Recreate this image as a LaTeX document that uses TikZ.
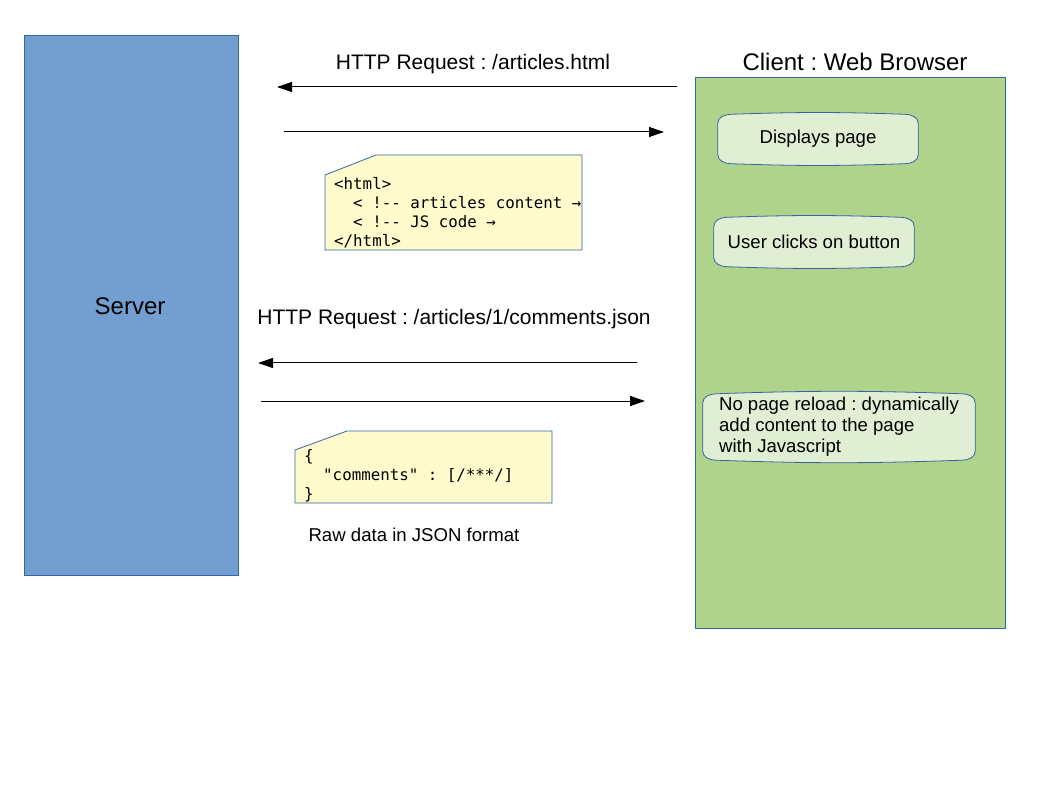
\documentclass[tikz,border=0pt]{standalone}
\usepackage{fontspec}
\setmainfont{Liberation Sans}
\newfontfamily\codefont{DejaVu Sans Mono}
\usepackage{xcolor}
\usetikzlibrary{arrows.meta,positioning,backgrounds}
\frenchspacing

\definecolor{serverblue}{HTML}{729FCF}
\definecolor{clientgreen}{HTML}{AFD38B}
\definecolor{stepgreen}{HTML}{E0EED4}
\definecolor{noteyellow}{HTML}{FFFBCC}
\definecolor{edgeblue}{HTML}{3465A4}

\tikzset{
  msg/.style={line width=1pt, -{Triangle[length=15pt,width=10pt]}},
  lane/.style={draw=edgeblue, line width=0.8pt},
  stepbox/.style={minimum width=200pt, minimum height=49pt, font=\fontsize{18.6}{21}\selectfont},
  stepline/.style={draw=edgeblue, fill=stepgreen, line width=0.8pt},
  note/.style={draw=edgeblue, fill=noteyellow, line width=0.8pt},
  code/.style={anchor=north west, align=left, inner sep=0pt, font=\codefont\fontsize{15.8}{19}\selectfont},
  label/.style={font=\fontsize{21}{25}\selectfont},
  title/.style={font=\fontsize{24}{28}\selectfont}
}

\begin{document}
\begin{tikzpicture}[x=1pt,y=-1pt]
\useasboundingbox (0,0) rectangle (1058,794);
% Titles
\node[title] (server) at (130,306) {Server};
\node[title] (client) at (855,62) {Client : Web Browser};
% First exchange
\node[label] (req1) at (473,64) {HTTP Request : /articles.html};
\coordinate (r1a) at (677,87);
\coordinate (r1b) at (277,87);
\coordinate (a1a) at (284,132);
\coordinate (a1b) at (664,132);
\draw[msg] (r1a) -- (r1b);
\draw[msg] (a1a) -- (a1b);
\draw[note] (376,155) -- (582,155) -- (582,250) -- (325,250) -- (325,175) -- cycle;
\node[code] (html) at (334,177) {<html>\\
\ \ < !-{}- articles content →\\
\ \ < !-{}- JS code →\\
</html>};
% Second exchange
\node[label] (req2) at (454,319) {HTTP Request : /articles/1/comments.json};
\coordinate (r2a) at (637,363);
\coordinate (r2b) at (258,363);
\coordinate (a2a) at (261,401);
\coordinate (a2b) at (645,401);
\draw[msg] (r2a) -- (r2b);
\draw[msg] (a2a) -- (a2b);
\draw[note] (347,431) -- (552,431) -- (552,503) -- (295,503) -- (295,450) -- cycle;
\node[code] (json) at (304,449) {\{\\
\ \ "comments" : [/***/]\\
\}};
\node[font=\fontsize{18.6}{21}\selectfont] (raw) at (414,535) {Raw data in JSON format};
% Client steps
\node[stepbox] (display) at (818,139) {Displays page};
\node[stepbox] (click) at (814,242) {User clicks on button};
\node[stepbox, minimum width=272pt, minimum height=65pt, inner xsep=4pt, align=left] (reload) at (839,427)
  {No page reload : dynamically\\add content to the page\\with Javascript};
% Lanes and step outlines behind everything
\begin{scope}[on background layer]
\draw[lane, fill=serverblue] (24,35) rectangle (238,575);
\draw[lane, fill=clientgreen] (695,77) rectangle (1005,628);
\foreach \s in {display,click,reload}{
  \draw[stepline] ([yshift=-9pt]\s.north west) to[out=90,in=182] ([xshift=13pt]\s.north west)
    to[out=2,in=178] ([xshift=-13pt]\s.north east) to[out=-2,in=90] ([yshift=-9pt]\s.north east)
    -- ([yshift=9pt]\s.south east) to[out=-90,in=2] ([xshift=-13pt]\s.south east)
    to[out=182,in=-2] ([xshift=13pt]\s.south west) to[out=178,in=-90] ([yshift=9pt]\s.south west)
    -- cycle;
}
\end{scope}
\end{tikzpicture}
\end{document}
